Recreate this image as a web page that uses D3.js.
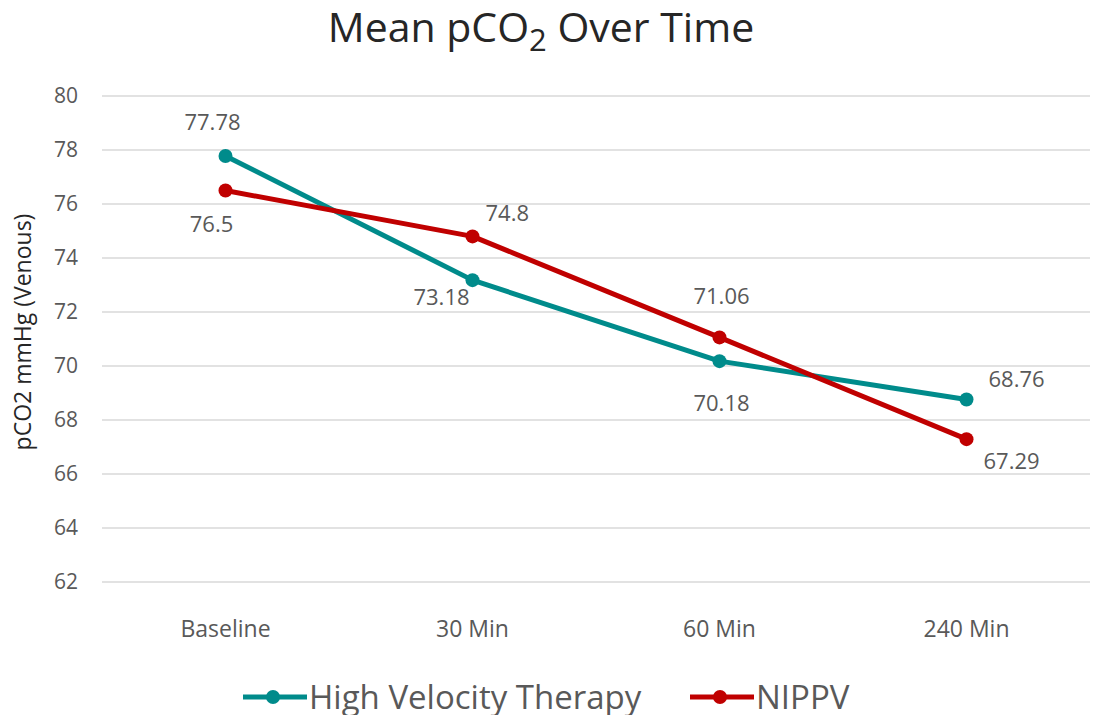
<!DOCTYPE html>
<html>
<head>
<meta charset="utf-8">
<script src="https://cdn.jsdelivr.net/npm/d3@7"></script>
<style>
  body { margin: 0; background: #fff; }
  svg text { font-family: "Open Sans", sans-serif; fill: #595959; }
</style>
</head>
<body>
<div id="chart"></div>
<script>
const categories = ["Baseline", "30 Min", "60 Min", "240 Min"];
const hvtValues = [77.78, 73.18, 70.18, 68.76];
const nippvValues = [76.5, 74.8, 71.06, 67.29];
const yTicks = [62, 64, 66, 68, 70, 72, 74, 76, 78, 80];
const seriesNames = ["High Velocity Therapy", "NIPPV"];

// where each data label sits relative to its point
const hvtLabelPos = ["above", "below", "belowFar", "right"];
const nippvLabelPos = ["belowLeft", "aboveRight", "aboveFar", "belowRight"];

const width = 1094, height = 715;
const margin = {top: 96, right: 4, bottom: 133, left: 102};

const svg = d3.select("#chart").append("svg")
  .attr("width", width).attr("height", height);

const x = d3.scalePoint()
  .domain(categories)
  .range([margin.left, width - margin.right])
  .padding(0.5);

const y = d3.scaleLinear()
  .domain([62, 80])
  .range([height - margin.bottom, margin.top]);

// gridlines
svg.append("g")
  .selectAll("line")
  .data(yTicks)
  .join("line")
  .attr("x1", margin.left).attr("x2", width - margin.right)
  .attr("y1", d => y(d)).attr("y2", d => y(d))
  .attr("stroke", "#d9d9d9").attr("stroke-width", 1.5);

// y axis labels
svg.append("g")
  .selectAll("text")
  .data(yTicks)
  .join("text")
  .attr("x", 78).attr("y", d => y(d))
  .attr("dy", "0.35em")
  .attr("text-anchor", "end")
  .style("font-size", "21px")
  .text(d => d);

// x axis labels
svg.append("g")
  .selectAll("text")
  .data(categories)
  .join("text")
  .attr("x", d => x(d)).attr("y", 637)
  .attr("text-anchor", "middle")
  .style("font-size", "23px")
  .text(d => d);

// title
const title = svg.append("text")
  .attr("x", 541).attr("y", 42)
  .attr("text-anchor", "middle")
  .style("font-size", "41px")
  .style("fill", "#262626");
title.append("tspan").text("Mean pCO");
title.append("tspan").attr("dy", 9).style("font-size", "31px").text("2");
title.append("tspan").attr("dy", -9).text(" Over Time");

// y axis title
svg.append("text")
  .attr("transform", "translate(31,332) rotate(-90)")
  .attr("text-anchor", "middle")
  .style("font-size", "23px")
  .style("fill", "#262626")
  .text("pCO2 mmHg (Venous)");

const colors = ["#008b8b", "#c00000"];
const series = [
  {name: seriesNames[0], values: hvtValues, pos: hvtLabelPos, color: colors[0]},
  {name: seriesNames[1], values: nippvValues, pos: nippvLabelPos, color: colors[1]}
];

const line = d3.line()
  .x((d, i) => x(categories[i]))
  .y(d => y(d));

const offsets = {
  above: {dx: -13, dy: -26, anchor: "middle"},
  aboveFar: {dx: 2, dy: -33, anchor: "middle"},
  below: {dx: -31, dy: 25, anchor: "middle"},
  belowFar: {dx: 2, dy: 50, anchor: "middle"},
  belowLeft: {dx: -14, dy: 41, anchor: "middle"},
  aboveRight: {dx: 13, dy: -15, anchor: "start"},
  right: {dx: 22, dy: -12, anchor: "start"},
  belowRight: {dx: 17, dy: 30, anchor: "start"}
};

series.forEach(s => {
  svg.append("path")
    .datum(s.values)
    .attr("fill", "none")
    .attr("stroke", s.color)
    .attr("stroke-width", 5)
    .attr("stroke-linejoin", "round")
    .attr("d", line);

  svg.append("g")
    .selectAll("circle")
    .data(s.values)
    .join("circle")
    .attr("cx", (d, i) => x(categories[i]))
    .attr("cy", d => y(d))
    .attr("r", 7)
    .attr("fill", s.color);

  svg.append("g")
    .selectAll("text")
    .data(s.values)
    .join("text")
    .attr("x", (d, i) => x(categories[i]) + offsets[s.pos[i]].dx)
    .attr("y", (d, i) => y(d) + offsets[s.pos[i]].dy)
    .attr("text-anchor", (d, i) => offsets[s.pos[i]].anchor)
    .style("font-size", "22px")
    .text(d => d);
});

// legend
const legendItems = [
  {name: seriesNames[0], color: colors[0], x: 243},
  {name: seriesNames[1], color: colors[1], x: 690}
];
const lg = svg.append("g");
legendItems.forEach(it => {
  lg.append("line")
    .attr("x1", it.x).attr("x2", it.x + 64)
    .attr("y1", 697).attr("y2", 697)
    .attr("stroke", it.color).attr("stroke-width", 5);
  lg.append("circle")
    .attr("cx", it.x + 30).attr("cy", 697).attr("r", 7)
    .attr("fill", it.color);
  lg.append("text")
    .attr("x", it.x + 66).attr("y", 709)
    .style("font-size", "33px")
    .text(it.name);
});
</script>
</body>
</html>
